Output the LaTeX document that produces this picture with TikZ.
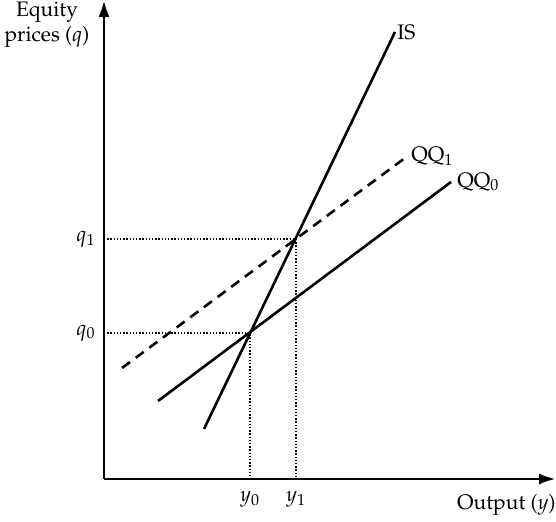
\documentclass[tikz,border=0pt]{standalone}
\usepackage[T1]{fontenc}
\usepackage{mathpazo}
\usetikzlibrary{arrows.meta, positioning, calc}
\tikzset{
    font=\fontsize{10.5}{12.5}\selectfont,
    >={Latex[length=8pt,width=5.5pt]},
    % Lines
    axis/.style={->, line width=0.8pt},
    curve/.style={line width=1.3pt},
    shifted/.style={curve, dash pattern=on 5pt off 3.5pt},
    guide/.style={line width=0.6pt, dash pattern=on 0.7pt off 0.9pt},
    % Labels
    lbl/.style={inner sep=1pt}
}

\begin{document}
\begin{tikzpicture}[x=0.5pt, y=0.5pt]
\useasboundingbox (-104,-43) rectangle (452,479);

% axes
\coordinate (O) at (0,0);
\coordinate (ytop) at (0,478);
\coordinate (xend) at (451,0);
\draw[axis] (O) -- (ytop);
\draw[axis] (O) -- (xend);

% equilibria
\coordinate (E0) at (146,146);
\coordinate (E1) at (192,240);
\coordinate (q0ax) at (0,146);
\coordinate (q1ax) at (0,240);
\coordinate (y0ax) at (146,0);
\coordinate (y1ax) at (192,0);
\draw[guide] (q0ax) -- (E0) -- (y0ax);
\draw[guide] (q1ax) -- (E1) -- (y1ax);

% curves
\coordinate (ISlow) at (100,50);
\coordinate (IShigh) at (291,447);
\coordinate (QQzlow) at (54,78);
\coordinate (QQzhigh) at (347,297);
\coordinate (QQolow) at (18,111);
\coordinate (QQohigh) at (301,321);
\draw[curve] (ISlow) -- (IShigh);
\draw[curve] (QQzlow) -- (QQzhigh);
\draw[shifted] (QQolow) -- (QQohigh);

% labels
\node[lbl, right=0pt of IShigh] (islbl) {IS};
\node[lbl, right=2pt of QQohigh, yshift=1pt] (qq1lbl) {QQ$_1$};
\node[lbl, right=2pt of QQzhigh] (qq0lbl) {QQ$_0$};
\node[lbl, left=3pt of q0ax] (q0lbl) {$q_0$};
\node[lbl, left=3pt of q1ax] (q1lbl) {$q_1$};
\node[lbl, below=5pt of y0ax] (y0lbl) {$y_0$};
\node[lbl, below=5pt of y1ax] (y1lbl) {$y_1$};
\node[inner sep=0pt, anchor=east] (xlbl) at (452,-26) {Output ($y$)};
\node[inner sep=0pt, align=center] (ylbl) at (-57,454) {Equity\\prices ($q$)};

\end{tikzpicture}
\end{document}
